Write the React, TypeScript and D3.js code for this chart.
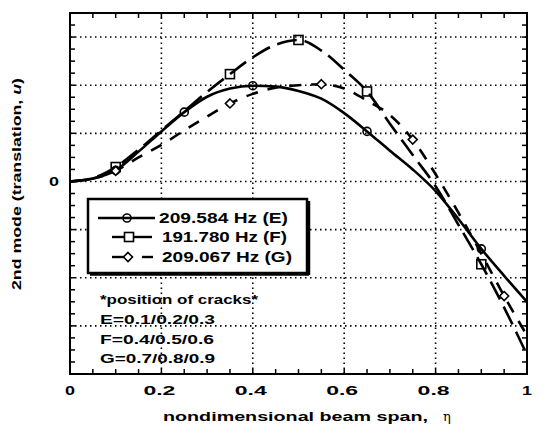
import React from "react";
import * as d3 from "d3";

// ---- data ----
const etaValues = [0, 0.05, 0.1, 0.15, 0.2, 0.25, 0.3, 0.35, 0.4, 0.45, 0.5, 0.55, 0.6, 0.65, 0.7, 0.75, 0.8, 0.85, 0.9, 0.95, 1.0];
const modeE = [0, 0.06, 0.23, 0.62, 1.04, 1.44, 1.76, 1.93, 1.99, 1.97, 1.88, 1.72, 1.42, 1.04, 0.64, 0.25, -0.2, -0.78, -1.4, -1.96, -2.5];
const modeF = [0, 0.07, 0.3, 0.66, 1.06, 1.46, 1.86, 2.23, 2.58, 2.84, 2.94, 2.72, 2.32, 1.87, 1.2, 0.55, -0.1, -0.9, -1.72, -2.62, -3.6];
const modeG = [0, 0.06, 0.22, 0.5, 0.76, 1.06, 1.35, 1.62, 1.82, 1.95, 2.0, 2.02, 1.93, 1.68, 1.38, 0.87, 0.15, -0.65, -1.5, -2.38, -3.2];
const markersE = [0.1, 0.25, 0.4, 0.65, 0.9];
const markersF = [0.1, 0.35, 0.5, 0.65, 0.9];
const markersG = [0.1, 0.35, 0.55, 0.75, 0.95];
const legendLabels = ["209.584 Hz (E)", "191.780 Hz (F)", "209.067 Hz (G)"];
const noteLines = ["*position of cracks*", "E=0.1/0.2/0.3", "F=0.4/0.5/0.6", "G=0.7/0.8/0.9"];
const xTickValues = [0, 0.2, 0.4, 0.6, 0.8, 1];
const xTickLabels = ["0", "0.2", "0.4", "0.6", "0.8", "1"];
const xGrid = [0.2, 0.4, 0.6, 0.8];
const yGrid = [-3, -2, -1, 0, 1, 2, 3];

const FONT = "'Liberation Sans', Arial, sans-serif";

const x = d3.scaleLinear().domain([0, 1]).range([70, 527]);
const y = d3.scaleLinear().domain([-4, 3.5]).range([374, 13]);

const lineGen = d3
  .line<[number, number]>()
  .x((d) => x(d[0]))
  .y((d) => y(d[1]))
  .curve(d3.curveMonotoneX);

function valueAt(series: number[], eta: number) {
  const i = d3.bisectLeft(etaValues, eta - 1e-9);
  if (Math.abs(etaValues[i] - eta) < 1e-9) return series[i];
  return series[i];
}

function Circle({ cx, cy }: { cx: number; cy: number }) {
  return <circle cx={cx} cy={cy} r={4} fill="none" stroke="#000" strokeWidth={1.6} />;
}
function Square({ cx, cy }: { cx: number; cy: number }) {
  return <rect x={cx - 4.5} y={cy - 4.5} width={9} height={9} fill="none" stroke="#000" strokeWidth={1.6} />;
}
function Diamond({ cx, cy }: { cx: number; cy: number }) {
  return (
    <path
      d={`M${cx},${cy - 4.5}L${cx + 4.5},${cy}L${cx},${cy + 4.5}L${cx - 4.5},${cy}Z`}
      fill="#fff"
      stroke="#000"
      strokeWidth={1.6}
    />
  );
}

export default function App() {
  const xMinor = d3.range(0, 1.0001, 0.05);
  const yMinor = d3.range(-4, 3.5001, 0.25);
  const [x0, x1] = x.range();
  const [yb, yt] = y.range();

  const ptsE = etaValues.map((e, i) => [e, modeE[i]] as [number, number]);
  const ptsF = etaValues.map((e, i) => [e, modeF[i]] as [number, number]);
  const ptsG = etaValues.map((e, i) => [e, modeG[i]] as [number, number]);

  return (
    <svg width={543} height={442} style={{ display: "block", position: "absolute", left: 0, top: 0, background: "#fff" }}>
      <rect x={0} y={0} width={543} height={442} fill="#fff" />
      {/* grid */}
      <g stroke="#000" strokeWidth={1.6} strokeDasharray="1.5,3.5">
        {xGrid.map((g) => (
          <line key={"xg" + g} x1={x(g)} x2={x(g)} y1={yb} y2={yt} />
        ))}
        {yGrid.map((g) => (
          <line key={"yg" + g} x1={x0} x2={x1} y1={y(g)} y2={y(g)} />
        ))}
      </g>
      {/* minor/major ticks */}
      <g stroke="#000" strokeWidth={1.5}>
        {xMinor.map((t) => (
          <g key={"xt" + t}>
            <line x1={x(t)} x2={x(t)} y1={yb} y2={yb - 5} />
            <line x1={x(t)} x2={x(t)} y1={yt} y2={yt + 5} />
          </g>
        ))}
        {yMinor.map((t) => (
          <g key={"yt" + t}>
            <line x1={x0} x2={x0 + 5} y1={y(t)} y2={y(t)} />
            <line x1={x1} x2={x1 - 5} y1={y(t)} y2={y(t)} />
          </g>
        ))}
      </g>
      {/* curves */}
      <path d={lineGen(ptsE) || ""} fill="none" stroke="#000" strokeWidth={2.6} />
      <path d={lineGen(ptsF) || ""} fill="none" stroke="#000" strokeWidth={2.6} strokeDasharray="20,8" />
      <path d={lineGen(ptsG) || ""} fill="none" stroke="#000" strokeWidth={2.6} strokeDasharray="12,10" />
      {markersE.map((m) => (
        <Circle key={"mE" + m} cx={x(m)} cy={y(valueAt(modeE, m))} />
      ))}
      {markersF.map((m) => (
        <Square key={"mF" + m} cx={x(m)} cy={y(valueAt(modeF, m))} />
      ))}
      {markersG.map((m) => (
        <Diamond key={"mG" + m} cx={x(m)} cy={y(valueAt(modeG, m))} />
      ))}
      {/* frame */}
      <rect x={x0} y={yt} width={x1 - x0} height={yb - yt} fill="none" stroke="#000" strokeWidth={2} />

      {/* legend */}
      <rect x={88} y={199} width={219} height={74} fill="#fff" stroke="#000" strokeWidth={2.5} />
      <line x1={309} x2={309} y1={201} y2={275} stroke="#000" strokeWidth={2.5} />
      <line x1={90} x2={309} y1={274.5} y2={274.5} stroke="#000" strokeWidth={2.5} />
      <g stroke="#000" strokeWidth={2.4}>
        <line x1={98} x2={155} y1={218} y2={218} />
        <line x1={112} x2={124} y1={237} y2={237} />
        <line x1={134} x2={152} y1={237} y2={237} />
        <line x1={112} x2={124} y1={257} y2={257} />
        <line x1={142} x2={153} y1={257} y2={257} />
      </g>
      <Circle cx={127} cy={218} />
      <Square cx={129} cy={237} />
      <Diamond cx={128} cy={257} />
      <g fontFamily={FONT} fontWeight="bold" fontSize={14} fill="#000">
        <text x={159} y={223} textLength={129} lengthAdjust="spacingAndGlyphs">{legendLabels[0]}</text>
        <text x={162} y={242} textLength={125} lengthAdjust="spacingAndGlyphs">{legendLabels[1]}</text>
        <text x={162} y={262} textLength={130} lengthAdjust="spacingAndGlyphs">{legendLabels[2]}</text>
      </g>

      {/* notes */}
      <g fontFamily={FONT} fontWeight="bold" fontSize={13} fill="#000">
        <text x={100} y={304} textLength={158} lengthAdjust="spacingAndGlyphs">{noteLines[0]}</text>
        <text x={100} y={324} textLength={115} lengthAdjust="spacingAndGlyphs">{noteLines[1]}</text>
        <text x={100} y={343.5} textLength={114} lengthAdjust="spacingAndGlyphs">{noteLines[2]}</text>
        <text x={100} y={363} textLength={115} lengthAdjust="spacingAndGlyphs">{noteLines[3]}</text>
      </g>

      {/* axis tick labels */}
      <g fontFamily={FONT} fontWeight="bold" fontSize={13} fill="#000">
        {xTickValues.map((t, i) => {
          const lab = xTickLabels[i];
          const w = lab.length === 1 ? 10 : 32;
          return (
            <text key={"xl" + t} x={x(t) - w / 2 - (lab.length === 1 ? 0 : 2)} y={395} textLength={w} lengthAdjust="spacingAndGlyphs">
              {lab}
            </text>
          );
        })}
        <text x={49} y={186} textLength={10} lengthAdjust="spacingAndGlyphs">0</text>
      </g>

      {/* axis titles */}
      <g fontFamily={FONT} fontWeight="bold" fontSize={13} fill="#000">
        <text x={163} y={421} textLength={265} lengthAdjust="spacingAndGlyphs">nondimensional beam span,</text>
        <text x={443} y={421} fontFamily="'DejaVu Serif', serif" fontWeight="normal" fontSize={13}>η</text>
        <text
          transform="translate(21,290) rotate(-90)"
          x={0}
          y={0}
          textLength={212}
          lengthAdjust="spacingAndGlyphs"
        >
          2nd mode (translation, <tspan fontStyle="italic">u</tspan>)
        </text>
      </g>
    </svg>
  );
}
